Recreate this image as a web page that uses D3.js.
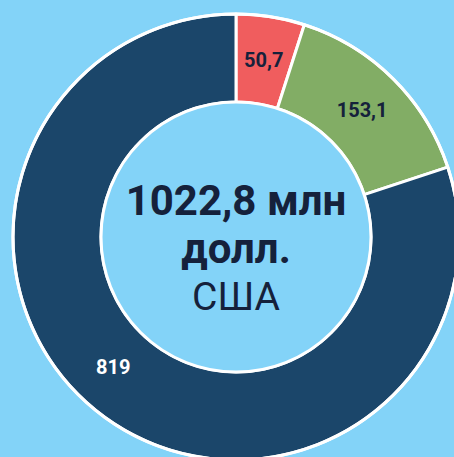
<!DOCTYPE html>
<html>
<head>
<meta charset="utf-8">
<script src="https://cdn.jsdelivr.net/npm/d3@7"></script>
<style>
  html, body { margin: 0; padding: 0; background: #83d3f8; overflow: hidden; }
  svg { display: block; font-family: Roboto, sans-serif; }
</style>
</head>
<body>
<div id="chart"></div>
<script>
const width = 454;
const height = 457;

// Data.
const labels = ["50,7", "153,1", "819"];
const values = [50.7, 153.1, 819];
const colours = ["#f05d5e", "#82ad65", "#1b466a"];
const labelColours = ["#15213b", "#15213b", "#ffffff"];
const centreLines = ["1022,8 млн", "долл.", "США"];

const cx = 236;
const cy = 237;
const outer = 223;
const inner = 135;

const svg = d3.select("#chart")
  .append("svg")
  .attr("width", width)
  .attr("height", height);

const g = svg.append("g")
  .attr("transform", `translate(${cx},${cy})`);

const pie = d3.pie().sort(null).value(d => d);
const arcs = pie(values);

const arc = d3.arc().innerRadius(inner).outerRadius(outer);
const labelArc = d3.arc().innerRadius(179).outerRadius(179);

g.selectAll("path")
  .data(arcs)
  .join("path")
  .attr("d", arc)
  .attr("fill", (d, i) => colours[i])
  .attr("stroke", "#fff")
  .attr("stroke-width", 3)
  .attr("stroke-linejoin", "round");

// outer white ring
g.append("circle")
  .attr("r", outer)
  .attr("fill", "none")
  .attr("stroke", "#fff")
  .attr("stroke-width", 3);

// inner circle
g.append("circle")
  .attr("r", inner)
  .attr("fill", "#83d3f8")
  .attr("stroke", "#fff")
  .attr("stroke-width", 3);

// the big slice label sits a bit further round than its centroid
const labelShift = [0, 0, 0.13];

g.selectAll("text.val")
  .data(arcs)
  .join("text")
  .attr("class", "val")
  .attr("transform", (d, i) => {
    const a = (d.startAngle + d.endAngle) / 2 + labelShift[i];
    const [x, y] = labelArc.centroid({ startAngle: a, endAngle: a });
    return `translate(${x},${y})`;
  })
  .attr("text-anchor", "middle")
  .attr("dy", "0.35em")
  .attr("font-size", 20)
  .attr("font-weight", 700)
  .attr("fill", (d, i) => labelColours[i])
  .text((d, i) => labels[i]);

const centre = g.append("text")
  .attr("text-anchor", "middle")
  .attr("fill", "#15213b");

centre.append("tspan")
  .attr("x", 0)
  .attr("y", -22)
  .attr("font-size", 42)
  .attr("font-weight", 700)
  .text(centreLines[0]);

centre.append("tspan")
  .attr("x", 0)
  .attr("y", 26)
  .attr("font-size", 42)
  .attr("font-weight", 700)
  .text(centreLines[1]);

centre.append("tspan")
  .attr("x", 0)
  .attr("y", 73)
  .attr("font-size", 39)
  .attr("font-weight", 400)
  .text(centreLines[2]);
</script>
</body>
</html>
